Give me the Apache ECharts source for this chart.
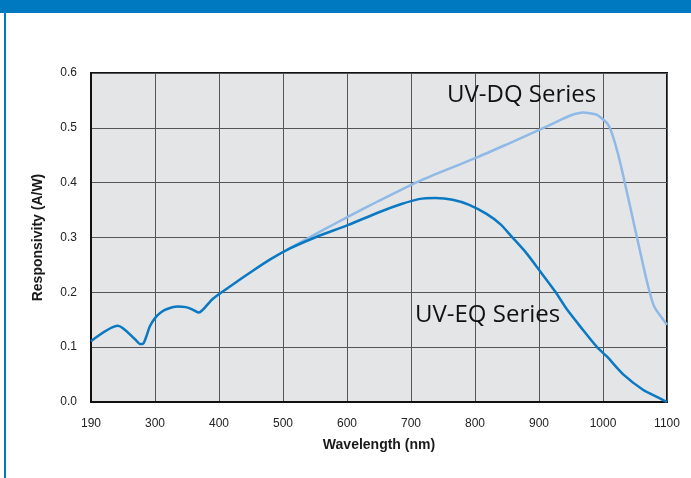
<!DOCTYPE html>
<html>
<head>
<meta charset="utf-8">
<script src="https://cdn.jsdelivr.net/npm/echarts@6/dist/echarts.min.js"></script>
<style>
html,body{margin:0;padding:0;background:#fff;}
#chart{width:691px;height:478px;}
</style>
</head>
<body>
<div id="chart"></div>
<script>
// Tick positions along the x axis (evenly spaced in the reference); first tick is labelled 190
const xTicks = [200, 300, 400, 500, 600, 700, 800, 900, 1000, 1100];
const xTickLabels = ['190', '300', '400', '500', '600', '700', '800', '900', '1000', '1100'];

// UV-EQ Series
const eqX = [200, 242, 270, 276, 281, 286, 292, 300, 310, 320, 335, 348, 358, 368, 390, 420, 450, 480, 511, 550, 602, 652, 685, 712, 738, 765, 790, 818, 840, 857, 880, 902, 925, 943, 965, 990, 1006, 1032, 1063, 1085, 1100];
const eqY = [0.111, 0.139, 0.113, 0.106, 0.106, 0.118, 0.138, 0.153, 0.164, 0.170, 0.174, 0.173, 0.169, 0.163, 0.188, 0.213, 0.237, 0.260, 0.280, 0.300, 0.323, 0.347, 0.361, 0.370, 0.372, 0.369, 0.360, 0.343, 0.324, 0.302, 0.272, 0.238, 0.202, 0.170, 0.137, 0.101, 0.083, 0.050, 0.022, 0.009, 0.000];

// UV-DQ Series
const dqX = [505, 560, 602, 650, 704, 750, 803, 850, 902, 933, 950, 969, 990, 1006, 1014, 1027, 1047, 1068, 1080, 1100];
const dqY = [0.277, 0.312, 0.338, 0.367, 0.398, 0.421, 0.446, 0.470, 0.497, 0.514, 0.523, 0.528, 0.524, 0.509, 0.490, 0.436, 0.332, 0.223, 0.174, 0.141];

const seriesNames = ['UV-EQ Series', 'UV-DQ Series'];

const eqData = eqX.map((x, i) => [x, eqY[i]]);
const dqData = dqX.map((x, i) => [x, dqY[i]]);

const chart = echarts.init(document.getElementById('chart'), null, {renderer: 'canvas'});
chart.setOption({
  animation: false,
  backgroundColor: '#ffffff',
  grid: {
    left: 91, top: 73, right: 24, bottom: 76,
    show: true, backgroundColor: '#e4e5e7', borderColor: '#111', borderWidth: 2
  },
  xAxis: {
    type: 'value', min: 200, max: 1100, interval: 100,
    name: 'Wavelength (nm)', nameLocation: 'middle', nameGap: 36,
    nameTextStyle: {fontFamily: 'Liberation Sans', fontSize: 14, fontWeight: 'bold', color: '#1a1a1a'},
    axisLine: {show: true, lineStyle: {color: '#111', width: 2}},
    axisTick: {show: false},
    axisLabel: {
      margin: 16, fontFamily: 'Liberation Sans', fontSize: 12, color: '#222',
      formatter: v => { const i = xTicks.indexOf(v); return i >= 0 ? xTickLabels[i] : ''; }
    },
    splitLine: {show: true, lineStyle: {color: '#555', width: 1}}
  },
  yAxis: {
    type: 'value', min: 0, max: 0.6, interval: 0.1,
    name: 'Responsivity (A/W)', nameLocation: 'middle', nameGap: 46, nameRotate: 90,
    nameTextStyle: {fontFamily: 'Liberation Sans', fontSize: 14, fontWeight: 'bold', color: '#1a1a1a'},
    axisLine: {show: true, lineStyle: {color: '#111', width: 2}},
    axisTick: {show: false},
    axisLabel: {margin: 14, fontFamily: 'Liberation Sans', fontSize: 12, color: '#222', formatter: v => v.toFixed(1)},
    splitLine: {show: true, lineStyle: {color: '#555', width: 1}}
  },
  series: [
    {
      name: seriesNames[1], type: 'line', data: dqData, showSymbol: false, smooth: 0.2,
      lineStyle: {color: '#8fb9e6', width: 2.5}, z: 3
    },
    {
      name: seriesNames[0], type: 'line', data: eqData, showSymbol: false, smooth: 0.25,
      lineStyle: {color: '#0a78c2', width: 2.5}, z: 4
    }
  ],
  graphic: [
    {type: 'rect', left: 0, top: 0, shape: {width: 691, height: 13}, style: {fill: '#0079c1'}, z: 10},
    {type: 'rect', left: 4, top: 13, shape: {width: 2, height: 465}, style: {fill: '#0079c1'}, z: 10},
    {type: 'text', left: 447, top: 83, style: {text: seriesNames[1], font: '24px "Open Sans"', fill: '#111'}, z: 10},
    {type: 'text', left: 415, top: 303, style: {text: seriesNames[0], font: '24px "Open Sans"', fill: '#111'}, z: 10}
  ]
});
</script>
</body>
</html>
